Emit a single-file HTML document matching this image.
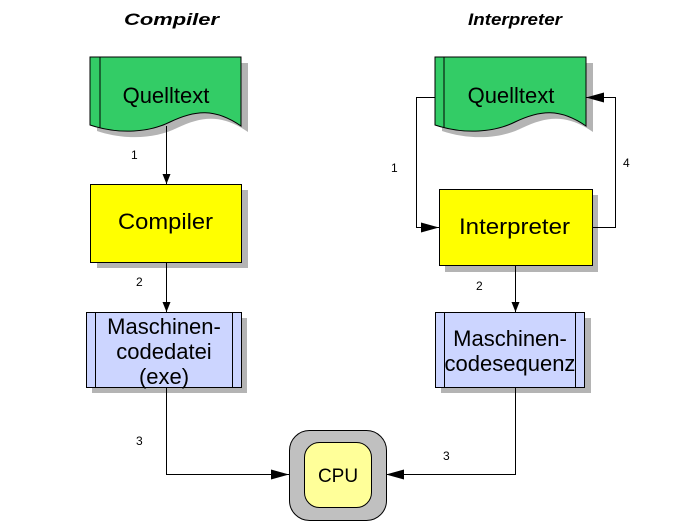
<!DOCTYPE html>
<html><head><style>body{margin:0;background:#fff}svg{display:block}</style></head><body>
<svg width="681" height="530" viewBox="0 0 681 530" xmlns="http://www.w3.org/2000/svg" font-family="Liberation Sans, Arial, sans-serif">
<defs>
<marker id="a" markerWidth="10" markerHeight="8" refX="10" refY="4" orient="auto" markerUnits="userSpaceOnUse"><path d="M0,0 L10,4 L0,8 Z" fill="#000"/></marker>
<marker id="b" markerWidth="18" markerHeight="10" refX="18" refY="5" orient="auto" markerUnits="userSpaceOnUse"><path d="M0,0 L18,5 L0,10 Z" fill="#000"/></marker>
</defs>
<text x="124" y="25" font-size="17" font-weight="bold" font-style="italic" textLength="95" lengthAdjust="spacingAndGlyphs">Compiler</text>
<text x="468" y="25" font-size="17" font-weight="bold" font-style="italic" textLength="94" lengthAdjust="spacingAndGlyphs">Interpreter</text>

<!-- left doc -->
<path d="M97,63 H248 V132 C222,114 202,116 177,128 C157,138 127,141 97,131 Z" fill="#b4b4b4"/>
<path d="M90,57 H241 V126 C215,108 195,110 170,122 C150,132 120,135 90,125 Z" fill="#33cc66" stroke="#000"/>
<line x1="100" y1="57" x2="100" y2="128" stroke="#000"/>
<text x="166" y="103" font-size="22" text-anchor="middle">Quelltext</text>

<!-- right doc -->
<path d="M442,63 H593 V132 C567,114 547,116 522,128 C502,138 472,141 442,131 Z" fill="#b4b4b4"/>
<path d="M435,57 H586 V126 C560,108 540,110 515,122 C495,132 465,135 435,125 Z" fill="#33cc66" stroke="#000"/>
<line x1="444" y1="57" x2="444" y2="128" stroke="#000"/>
<text x="511" y="103" font-size="22" text-anchor="middle">Quelltext</text>

<!-- compiler -->
<rect x="97" y="190" width="151" height="78" fill="#b4b4b4"/>
<rect x="90.5" y="184.5" width="151" height="78" fill="#ffff00" stroke="#000"/>
<text x="118" y="229" font-size="22" textLength="95" lengthAdjust="spacingAndGlyphs">Compiler</text>

<!-- interpreter -->
<rect x="445" y="195" width="153" height="77" fill="#b4b4b4"/>
<rect x="439.5" y="189.5" width="153" height="76" fill="#ffff00" stroke="#000"/>
<text x="459" y="234" font-size="22" textLength="111" lengthAdjust="spacingAndGlyphs">Interpreter</text>

<!-- masch left -->
<rect x="92" y="318" width="155" height="75" fill="#b4b4b4"/>
<rect x="86.5" y="312.5" width="155" height="75" fill="#ccd5ff" stroke="#000"/>
<line x1="95.5" y1="312" x2="95.5" y2="387" stroke="#000"/>
<line x1="232.5" y1="312" x2="232.5" y2="387" stroke="#000"/>
<text x="164" y="334" font-size="22" text-anchor="middle">Maschinen-</text>
<text x="164" y="359" font-size="22" text-anchor="middle">codedatei</text>
<text x="164" y="384" font-size="22" text-anchor="middle">(exe)</text>

<!-- masch right -->
<rect x="441" y="318" width="150" height="75" fill="#b4b4b4"/>
<rect x="435.5" y="312.5" width="149" height="75" fill="#ccd5ff" stroke="#000"/>
<line x1="444.5" y1="312" x2="444.5" y2="387" stroke="#000"/>
<line x1="575.5" y1="312" x2="575.5" y2="387" stroke="#000"/>
<text x="510" y="346" font-size="22" text-anchor="middle">Maschinen-</text>
<text x="510" y="371" font-size="22" text-anchor="middle">codesequenz</text>

<!-- CPU -->
<rect x="289.5" y="430.5" width="97" height="90" rx="20" fill="#c0c0c0" stroke="#000"/>
<rect x="304.5" y="442.5" width="67" height="65" rx="15" fill="#ffff99" stroke="#000"/>
<text x="338" y="482" font-size="19" text-anchor="middle">CPU</text>

<!-- connectors -->
<g stroke="#000" fill="none">
<path d="M166.5,126 V184" marker-end="url(#a)"/>
<path d="M166.5,262 V312" marker-end="url(#a)"/>
<path d="M166.5,387 V474.5 H289" marker-end="url(#b)"/>
<path d="M515.5,387 V474.5 H386" marker-end="url(#b)"/>
<path d="M515.5,265 V312" marker-end="url(#a)"/>
<path d="M435,97.5 H416.5 V227.5 H439" marker-end="url(#b)"/>
<path d="M592,227.5 H615.5 V97.5 H586" marker-end="url(#b)"/>
</g>
<g font-size="12">
<text x="131" y="159">1</text>
<text x="136" y="286">2</text>
<text x="136" y="445">3</text>
<text x="391" y="172">1</text>
<text x="476" y="290">2</text>
<text x="443" y="460">3</text>
<text x="623" y="167">4</text>
</g>
</svg>
</body></html>
